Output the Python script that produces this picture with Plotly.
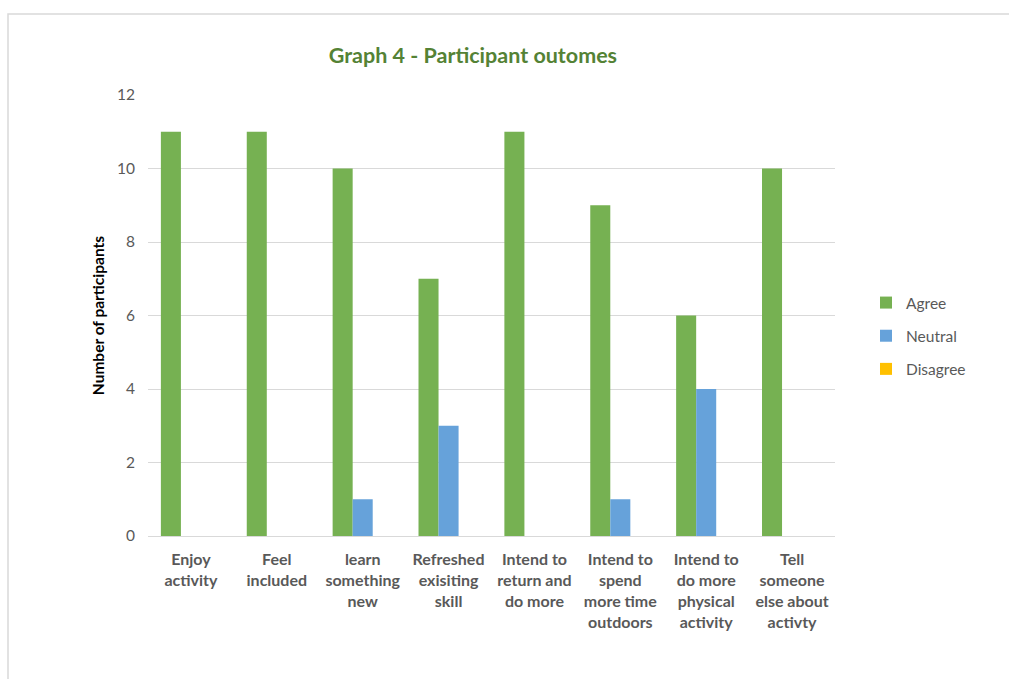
import plotly.graph_objects as go

categories = [
    "Enjoy<br>activity",
    "Feel<br>included",
    "learn<br>something<br>new",
    "Refreshed<br>exisiting<br>skill",
    "Intend to<br>return and<br>do more",
    "Intend to<br>spend<br>more time<br>outdoors",
    "Intend to<br>do more<br>physical<br>activity",
    "Tell<br>someone<br>else about<br>activty",
]
agree = [11, 11, 10, 7, 11, 9, 6, 10]
neutral = [0, 0, 1, 3, 0, 1, 4, 0]
disagree = [0, 0, 0, 0, 0, 0, 0, 0]

series = [
    ("Agree", agree, "#76B152"),
    ("Neutral", neutral, "#66A2DA"),
    ("Disagree", disagree, "#FFC000"),
]

fig = go.Figure()
for name, vals, color in series:
    fig.add_trace(go.Bar(
        x=categories, y=vals, name=name, legendgroup=name,
        marker=dict(color=color, line=dict(width=0)),
    ))

W, H = 1009, 679
L, R, T, B = 148, 174, 95, 143
pw, ph = W - L - R, H - T - B

def px_x(x):
    return (x - L) / pw

def px_y(y):
    return (H - B - y) / ph

fig.update_layout(
    width=W, height=H,
    margin=dict(l=L, r=R, t=T, b=B),
    paper_bgcolor="white", plot_bgcolor="white",
    font=dict(family="Lato, Open Sans, sans-serif", color="#595959", size=14),
    barmode="group", bargap=0.3, bargroupgap=0,
    title=dict(
        text="<b>Graph 4 - Participant outomes</b>",
        font=dict(size=21.5, color="#548235"),
        x=px_x(470), xanchor="center", y=1 - 55 / H, yanchor="middle",
    ),
    xaxis=dict(
        showgrid=False, showline=True, linecolor="#D9D9D9", linewidth=1,
        ticks="", tickfont=dict(size=16, color="#595959", family="Lato, sans-serif",
                                weight="bold"),
        ticklabelstandoff=9,
    ),
    yaxis=dict(
        range=[0, 12], dtick=2, showgrid=True, gridcolor="#D9D9D9", gridwidth=1,
        zeroline=False, ticks="", tickfont=dict(size=15.5, color="#595959"),
        ticklabelstandoff=12,
        title=dict(text="<b>Number of participants</b>",
                   font=dict(size=15.5, color="#000000"), standoff=8),
    ),
    legend=dict(
        x=px_x(866), xanchor="left", y=px_y(336), yanchor="middle",
        font=dict(size=15.5, color="#595959"), tracegroupgap=10,
        itemwidth=30, bgcolor="rgba(0,0,0,0)",
    ),
    shapes=[dict(
        type="rect", xref="paper", yref="paper",
        x0=px_x(8), x1=px_x(1020), y0=px_y(690), y1=px_y(14),
        line=dict(color="#D9D9D9", width=1.5), fillcolor="rgba(0,0,0,0)",
        layer="below",
    )],
)

fig.write_html("out.html")
